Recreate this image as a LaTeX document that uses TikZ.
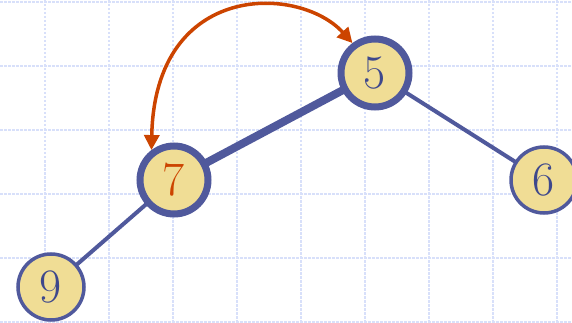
\documentclass[tikz,border=0pt]{standalone}
\usetikzlibrary{arrows.meta,backgrounds}
\definecolor{edgeblue}{RGB}{80,89,156}
\definecolor{keyblue}{RGB}{62,72,140}
\definecolor{keyfill}{RGB}{240,221,149}
\definecolor{swapred}{RGB}{204,68,0}
\definecolor{gridblue}{RGB}{216,224,250}
\tikzset{
  heapnode/.style={circle, draw=edgeblue, fill=keyfill, line width=3.5pt,
    minimum size=66pt, inner sep=0pt, text=keyblue,
    font=\fontsize{48}{48}\selectfont},
  swapnode/.style={heapnode, line width=7pt, minimum size=68pt},
  treeedge/.style={draw=edgeblue, line width=4pt},
  swapedge/.style={treeedge, line width=8pt},
  swaparrow/.style={draw=swapred, line width=3.5pt,
    {Triangle[length=15pt,width=15pt]}-{Triangle[length=15pt,width=15pt]}},
}
\begin{document}
\begin{tikzpicture}[x=1pt,y=1pt,yscale=-1,xscale=1]
\useasboundingbox (0,0) rectangle (572,323);

%Keys
\node [swapnode] (n5) at (375,73) {5};
\node [swapnode, text=swapred] (n7) at (174,180) {7};
\node [heapnode] (n6) at (544,180) {6};
\node [heapnode] (n9) at (51,287) {9};

\begin{scope}[on background layer]
%Grid
\foreach \gx in {45,109,...,557} {
  \draw [gridblue, line width=1.4pt, dash pattern=on 2.5pt off 1.5pt] (\gx,0) -- (\gx,323);
}
\foreach \gy in {2,66,...,322} {
  \draw [gridblue, line width=1.4pt, dash pattern=on 2.5pt off 1.5pt] (0,\gy) -- (572,\gy);
}
%Edges
\draw [swapedge] (n5.center) -- (n7.center);
\draw [treeedge] (n5.center) -- (n6.center);
\draw [treeedge] (n7.center) -- (n9.center);
\end{scope}

%Swap
\draw [swaparrow] (n7.127) .. controls (155,-20) and (300,-15) .. (n5.127);
\end{tikzpicture}
\end{document}
